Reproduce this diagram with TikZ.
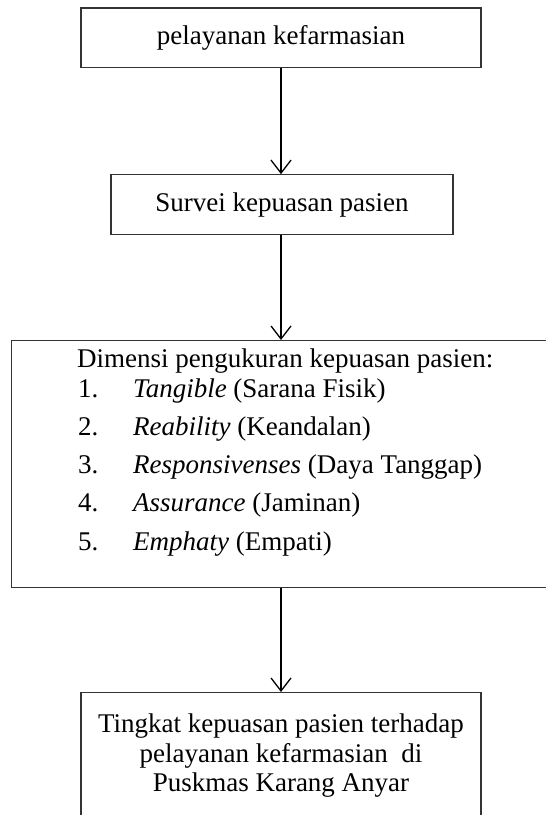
\documentclass[tikz,border=0pt]{standalone}
\usepackage{fontspec}
\setmainfont{Liberation Serif}
\usetikzlibrary{arrows.meta}
\begin{document}
\begin{tikzpicture}[x=1pt,y=-1pt,
  box/.style={draw=black!80, line width=1.1pt, inner sep=0pt},
  conn/.style={-{Straight Barb[length=13pt,width=20pt]}, line width=1.3pt},
  big/.style={font=\fontsize{27}{29.5}\selectfont}]
\useasboundingbox (0,0) rectangle (546,815);
% box 1
\node[box, big, minimum width=400pt, minimum height=59.7pt] (b1) at (281,37.85) {pelayanan kefarmasian};
% box 2
\node[box, big, minimum width=342pt, minimum height=60pt] (b2) at (282,204.7) {Survei kepuasan pasien};
% box 3
\node[box, minimum width=549pt, minimum height=247pt, anchor=north west] (b3) at (11,340) {};
\node[big, anchor=base west, inner sep=0pt] (h3) at (77,367) {Dimensi pengukuran kepuasan pasien:};
\foreach \i/\t [count=\k] in {1/{\textit{Tangible} (Sarana Fisik)},2/{\textit{Reability} (Keandalan)},3/{\textit{Responsivenses} (Daya Tanggap)},4/{\textit{Assurance} (Jaminan)},5/{\textit{Emphaty} (Empati)}}{
  \node[big, anchor=base west, inner sep=0pt] (n\k) at (78,{397+38.3*(\k-1)}) {\i.};
  \node[big, anchor=base west, inner sep=0pt] (i\k) at (133,{397+38.3*(\k-1)}) {\t};
}
% box 4
\node[box, minimum width=400pt, minimum height=140pt, anchor=north] (b4) at (281,692) {};
\node[big, align=center, anchor=north, inner sep=0pt] (t4) at (281,714) {Tingkat kepuasan pasien terhadap\\pelayanan kefarmasian\ \ di\\Puskmas Karang Anyar};
% connectors
\draw[conn] (b1.south -| 281,0) -- (b2.north -| 281,0);
\draw[conn] (b2.south -| 281,0) -- (b3.north -| 281,0);
\draw[conn] (b3.south -| 281,0) -- (b4.north);
\end{tikzpicture}
\end{document}
